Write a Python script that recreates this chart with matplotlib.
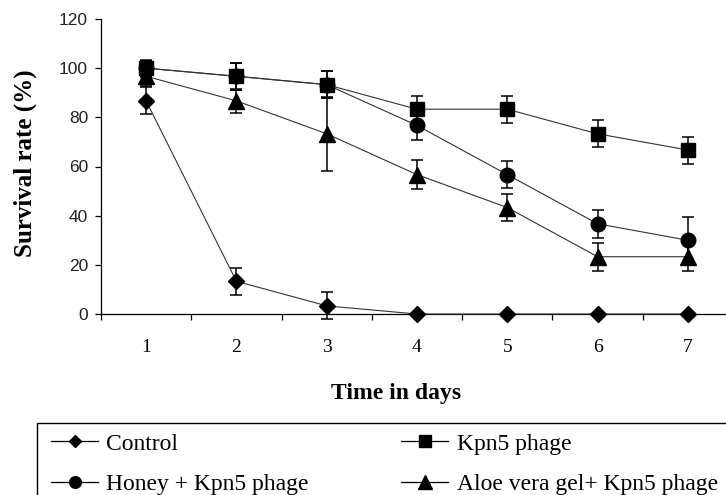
import matplotlib.pyplot as plt
from matplotlib.lines import Line2D
from matplotlib.patches import Rectangle

# data (survival %, days 1-7)
days = [1, 2, 3, 4, 5, 6, 7]
control = [86.7, 13.3, 3.3, 0, 0, 0, 0]
control_err = [5.5, 5.5, 5.5, 0, 0, 0, 0]
kpn5 = [100, 96.7, 93.3, 83.3, 83.3, 73.3, 66.7]
kpn5_err = [3, 5.5, 5.5, 5.5, 5.5, 5.5, 5.5]
honey = [100, 96.7, 93.3, 76.7, 56.7, 36.7, 30.0]
honey_err = [3.5, 5.5, 5.5, 5.8, 5.5, 5.8, 9.5]
aloe = [96.7, 86.7, 73.3, 56.7, 43.3, 23.3, 23.3]
aloe_err = [4, 5, 15, 6, 5.5, 5.7, 5.7]

labels = ['Control', 'Kpn5 phage', 'Honey + Kpn5 phage', 'Aloe vera gel+ Kpn5 phage']
# (values, errors, marker, size, z-order) - square sits on top of the circle
series = [(control, control_err, 'D', 8, 6),
          (kpn5, kpn5_err, 's', 10, 5),
          (honey, honey_err, 'o', 10.5, 4),
          (aloe, aloe_err, '^', 12, 3)]

W, H = 726, 495
fig = plt.figure(figsize=(W / 100, H / 100), dpi=100)
ax = fig.add_axes([101 / W, 1 - 314 / H, (733 - 101) / W, (314 - 19) / H])

for vals, err, mk, ms, z in series:
    ax.errorbar(days, vals, yerr=err, fmt='none', ecolor='black', elinewidth=1.1,
                capsize=4.3, capthick=1.1, zorder=2, clip_on=False)
    ax.plot(days, vals, color='#333333', lw=0.8, marker=mk, ms=ms,
            mfc='black', mec='black', zorder=z, clip_on=False)

ax.set_xlim(0.5, 7.5)
ax.set_ylim(0, 120)
ax.set_yticks(range(0, 121, 20))
ax.set_xticks(days)
ax.set_xticks([d + 0.5 for d in range(0, 8)], minor=True)
for sp in ['top', 'right']:
    ax.spines[sp].set_visible(False)
for sp in ['left', 'bottom']:
    ax.spines[sp].set_linewidth(0.9)
ax.tick_params(axis='x', which='major', length=0, pad=18)
ax.tick_params(axis='x', which='minor', length=4.3, width=0.9, direction='out')
ax.tick_params(axis='y', length=4.3, width=0.9, direction='out', pad=5)
for t in ax.get_xticklabels():
    t.set_fontfamily('Liberation Serif')
    t.set_fontsize(14)
for t in ax.get_yticklabels():
    t.set_fontfamily('Liberation Sans')
    t.set_fontsize(12.5)
    t.set_color('#222222')

fig.text(396 / W, 1 - 393 / H, 'Time in days', ha='center', va='center',
         fontfamily='Liberation Serif', fontweight='bold', fontsize=17)
fig.text(25 / W, 1 - 163 / H, 'Survival rate (%)', ha='center', va='center', rotation=90,
         fontfamily='Liberation Serif', fontweight='bold', fontsize=18)

# legend box (cut off by the figure edge like the original)
fig.add_artist(Rectangle((37 / W, -0.1), 1.2, 0.1 + 1 - 423 / H, transform=fig.transFigure,
                         fill=False, edgecolor='black', lw=1.0))
handles = [Line2D([], [], color='black', lw=0.9, marker=mk, ms=ms * 0.8, mfc='black', mec='black')
           for _, _, mk, ms, _ in series]
order = [0, 2, 1, 3]
fig.legend([handles[i] for i in order], [labels[i] for i in order],
           loc='upper left', bbox_to_anchor=(51 / W, 1 - 433 / H), ncol=2, frameon=False,
           borderpad=0, borderaxespad=0, handlelength=2.0, handletextpad=0.35,
           columnspacing=3.9, labelspacing=0.8,
           prop={'family': 'Liberation Serif', 'size': 17})

fig.savefig('out.png', dpi=100)
